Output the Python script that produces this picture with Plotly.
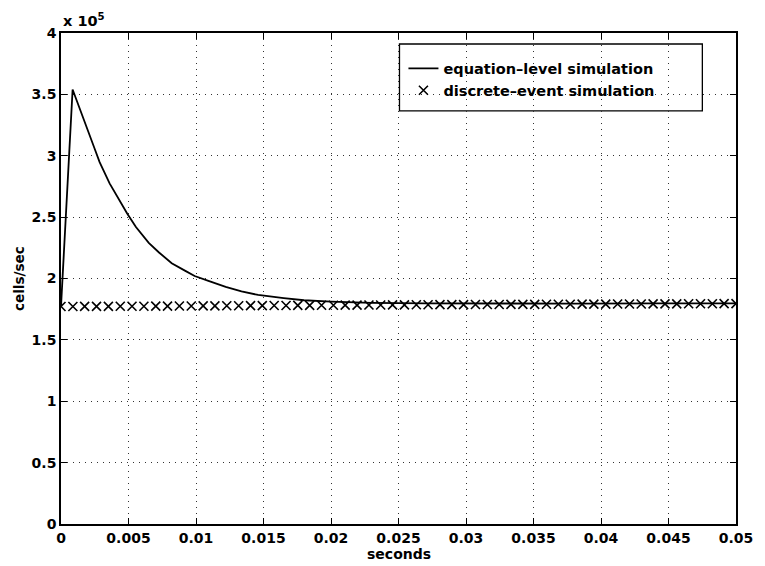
import plotly.graph_objects as go

# ---- data ----
eq_t = [0.0, 0.00086, 0.0025, 0.00286, 0.0036, 0.0042, 0.0049, 0.00555, 0.0065, 0.00726,
        0.0082, 0.00921, 0.0099, 0.01092, 0.0122, 0.01337, 0.0146, 0.0165, 0.018, 0.020,
        0.023, 0.027, 0.032, 0.038, 0.044, 0.050]
eq_rate = [177000, 354000, 305500, 294800, 277500, 266000, 253000, 242000, 229000, 221200,
           212500, 206200, 202000, 198000, 193200, 189500, 186600, 184000, 182300, 181200,
           180200, 179700, 179500, 179600, 179700, 179800]

de_t = [0.0, 0.00088, 0.00175, 0.00263, 0.00351, 0.00439, 0.00526, 0.00614, 0.00702, 0.00789,
        0.00877, 0.00965, 0.01053, 0.01140, 0.01228, 0.01316, 0.01404, 0.01491, 0.01579, 0.01667,
        0.01754, 0.01842, 0.01930, 0.02018, 0.02105, 0.02193, 0.02281, 0.02368, 0.02456, 0.02544,
        0.02632, 0.02719, 0.02807, 0.02895, 0.02982, 0.03070, 0.03158, 0.03246, 0.03333, 0.03421,
        0.03509, 0.03596, 0.03684, 0.03772, 0.03860, 0.03947, 0.04035, 0.04123, 0.04211, 0.04298,
        0.04386, 0.04474, 0.04561, 0.04649, 0.04737, 0.04825, 0.04912, 0.05000]
de_rate = [177200, 177200, 177300, 177300, 177300, 177400, 177400, 177400, 177500, 177500,
           177600, 177600, 177700, 177700, 177800, 177800, 177900, 177900, 178000, 178000,
           178100, 178100, 178200, 178200, 178300, 178300, 178400, 178400, 178500, 178500,
           178600, 178600, 178700, 178700, 178700, 178800, 178800, 178800, 178900, 178900,
           178900, 179000, 179000, 179000, 179100, 179100, 179100, 179200, 179200, 179200,
           179300, 179300, 179300, 179400, 179400, 179400, 179500, 179500]

x_ticks = [0, 0.005, 0.01, 0.015, 0.02, 0.025, 0.03, 0.035, 0.04, 0.045, 0.05]
x_ticktext = ["0", "0.005", "0.01", "0.015", "0.02", "0.025", "0.03", "0.035", "0.04", "0.045", "0.05"]
y_ticks = [0, 50000, 100000, 150000, 200000, 250000, 300000, 350000, 400000]
y_ticktext = ["0", "0.5", "1", "1.5", "2", "2.5", "3", "3.5", "4"]

FONT = "DejaVu Sans"

fig = go.Figure()
fig.add_trace(go.Scatter(x=eq_t, y=eq_rate, mode="lines",
                         line=dict(color="black", width=1.8),
                         name="equation\u2013level simulation"))
fig.add_trace(go.Scatter(x=de_t, y=de_rate, mode="markers",
                         marker=dict(symbol="x-thin", size=9, color="black",
                                     line=dict(color="black", width=1.6)),
                         name="discrete\u2013event simulation"))

axis_common = dict(
    showline=True, linecolor="black", linewidth=1.6, mirror="ticks",
    ticks="inside", ticklen=6, tickwidth=1.3, tickcolor="black",
    showgrid=True, gridcolor="#333333", gridwidth=1, griddash="1px,5px",
    zeroline=False, tickfont=dict(family=FONT, size=14, color="black", weight="bold"),
)

fig.update_xaxes(range=[0, 0.05], tickvals=x_ticks, ticktext=x_ticktext, **axis_common)
fig.update_yaxes(range=[0, 400000], tickvals=y_ticks, ticktext=y_ticktext, **axis_common)

fig.update_layout(
    width=765, height=566,
    margin=dict(l=61, r=22, t=33, b=41.5),
    paper_bgcolor="white", plot_bgcolor="white",
    font=dict(family=FONT, color="black"),
    showlegend=True,
    legend=dict(x=(407 - 61) / 682, y=(524.5 - 52.5) / 491.5, xanchor="left", yanchor="top",
                bgcolor="rgba(0,0,0,0)", borderwidth=0,
                font=dict(family=FONT, size=14.5, color="black", weight="bold")),
    shapes=[dict(type="rect", xref="paper", yref="paper",
                 x0=(403 - 61) / 682, x1=(709 - 61) / 682,
                 y0=(524.5 - 111) / 491.5, y1=(524.5 - 44) / 491.5,
                 line=dict(color="black", width=1.3), fillcolor="white", layer="below")],
    annotations=[
        dict(text="seconds", xref="paper", yref="paper", x=0.5, y=(524.5 - 555) / 491.5,
             xanchor="center", yanchor="middle", showarrow=False,
             font=dict(family=FONT, size=14, color="black", weight="bold")),
        dict(text="cells/sec", xref="paper", yref="paper", x=(18 - 61) / 682, y=0.5,
             xanchor="center", yanchor="middle", textangle=-90, showarrow=False,
             font=dict(family=FONT, size=13.5, color="black", weight="bold")),
        dict(text="x 10<sup>5</sup>", xref="paper", yref="paper", x=0.0, y=1.004,
             xanchor="left", yanchor="bottom", showarrow=False,
             font=dict(family=FONT, size=14.5, color="black", weight="bold")),
    ],
)

fig.write_html("out.html")
